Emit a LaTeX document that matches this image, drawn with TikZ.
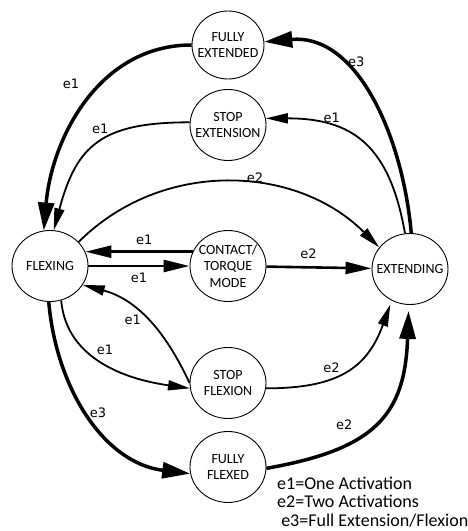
\documentclass[tikz,border=0pt]{standalone}
\usepackage{fontspec}
\setmainfont{Carlito}
\newfontfamily\labelfamily{DejaVu Sans}
\usetikzlibrary{arrows.meta,shapes.geometric}

\newcommand\statefont{\fontsize{14}{16.5}\selectfont}
\newcommand\edgefont{\labelfamily\fontsize{13}{14}\selectfont}
\newcommand\legendfont{\fontsize{18}{18.3}\selectfont}

\begin{document}
\begin{tikzpicture}[
    x=1pt, y=1pt,
    state/.style={draw, ellipse, line width=0.9pt, minimum width=76pt,
      minimum height=71pt, inner xsep=-12pt, inner ysep=-8pt,
      align=center, font=\statefont},
    thin edge/.style={line width=1.8pt, -{Triangle[length=22pt, width=10pt]}},
    mid edge/.style={line width=2.6pt, -{Triangle[length=26pt, width=12pt]}},
    thick edge/.style={line width=3.5pt, -{Triangle[length=28pt, width=16pt]}},
    edge label/.style={font=\edgefont, inner sep=1pt},
  ]
  \useasboundingbox (0,0) rectangle (467,531);

  % states
  \node (fully extended) [state, minimum width=72pt, minimum height=68pt]
    at (228,486) {FULLY\\EXTENDED};
  \node (stop extension) [state] at (228,406) {STOP\\EXTENSION};
  \node (flexing) [state] at (50,265) {FLEXING};
  \node (contact mode) [state] at (228,265) {CONTACT/\\TORQUE\\MODE};
  \node (extending) [state] at (410,262) {EXTENDING};
  \node (stop flexion) [state] at (228,148) {STOP\\FLEXION};
  \node (fully flexed) [state] at (228,64) {FULLY\\FLEXED};

  % straight arrows
  \draw [mid edge]
    (flexing) -- (contact mode)
      node [edge label, midway, below=5pt] {e1}
  ;
  \draw [mid edge]
    (contact mode.158) -- (flexing.22)
      node [edge label, pos=0.45, above=5pt] {e1}
  ;
  \draw [mid edge]
    (contact mode) -- (extending)
      node [edge label, pos=0.4, above=6pt] {e2}
  ;

  % upper arcs
  \draw [thin edge]
    (flexing.40)
      to [out=45, in=135]
        node [edge label, pos=0.58, above] {e2}
      (extending.145)
  ;
  \draw [thick edge]
    (extending.88)
      to [out=95, in=5]
        node [edge label, pos=0.65, above right] {e3}
      (fully extended.5)
  ;
  \draw [thin edge]
    (extending.98)
      to [out=100, in=0, looseness=1.25]
        node [edge label, pos=0.7, above=2pt] {e1}
      (stop extension.10)
  ;
  \draw [thick edge]
    (fully extended.180)
      to [out=180, in=85]
        node [edge label, pos=0.4, left=20pt] {e1}
      (flexing.100)
  ;
  \draw [thin edge]
    (stop extension.176)
      to [out=180, in=75, looseness=1.3]
        node [edge label, pos=0.4, above left] {e1}
      (flexing.84)
  ;

  % lower arcs
  \draw [thin edge]
    (flexing.288)
      to [out=275, in=172]
        node [edge label, pos=0.5, above=7pt] {e1}
      (stop flexion.188)
  ;
  \draw [thin edge]
    (stop flexion.180)
      to [out=115, in=-15]
        node [edge label, pos=0.5, left=5pt] {e1}
      (flexing.330)
  ;
  \draw [thin edge, shorten >=4pt]
    (stop flexion.-8)
      to [out=0, in=250, looseness=1.2]
        node [edge label, pos=0.38, above=4pt] {e2}
      (extending.240)
  ;
  \draw [thick edge]
    (flexing.268)
      to [out=275, in=173]
        node [edge label, pos=0.48, right] {e3}
      (fully flexed.190)
  ;
  \draw [thick edge, shorten >=6pt]
    (fully flexed.-2)
      to [out=10, in=268, looseness=1.3]
        node [edge label, pos=0.38, above left=4pt] {e2}
      (extending.268)
  ;

  % legend
  \node (legend) [anchor=north west, align=left, inner sep=0pt, font=\legendfont]
    at (277,54) {e1=One Activation\\e2=Two Activations\\\ e3=Full Extension/Flexion};
\end{tikzpicture}
\end{document}
